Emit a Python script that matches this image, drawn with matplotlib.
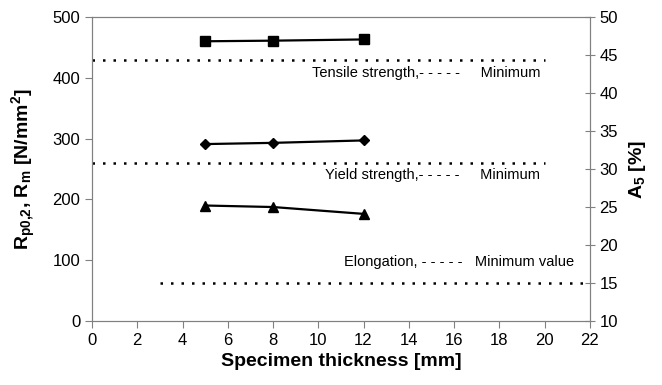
import matplotlib.pyplot as plt

plt.rcParams['font.family'] = ['Liberation Sans', 'DejaVu Sans']
plt.rcParams['mathtext.fontset'] = 'custom'
plt.rcParams['mathtext.rm'] = 'Liberation Sans'
plt.rcParams['mathtext.bf'] = 'Liberation Sans:bold'
plt.rcParams['mathtext.default'] = 'bf'

thickness = [5, 8, 12]
tensile = [460, 461, 463]      # Rm [N/mm2]
yield_str = [291, 293, 297]    # Rp0,2 [N/mm2]
elongation = [25.2, 25.0, 24.1]  # A5 [%]

tensile_min = 430
yield_min = 260
elong_min = 15

fig = plt.figure(figsize=(6.62, 3.85), dpi=100)
ax = fig.add_axes([0.139, 0.166, 0.752, 0.790])
ax2 = ax.twinx()

dots = (0, (1, 3.2))
ax.plot([0, 20], [tensile_min] * 2, color='black', lw=1.8, linestyle=dots)
ax.plot([0, 20], [yield_min] * 2, color='black', lw=1.8, linestyle=dots)
ax2.plot([3, 22], [elong_min] * 2, color='black', lw=1.8, linestyle=dots)

ax.plot(thickness, tensile, color='black', lw=1.6, marker='s', ms=7)
ax.plot(thickness, yield_str, color='black', lw=1.6, marker='D', ms=5.5)
ax2.plot(thickness, elongation, color='black', lw=1.6, marker='^', ms=7)

ax.set_xlim(0, 22)
ax.set_ylim(0, 500)
ax2.set_ylim(10, 50)
ax.set_xticks(range(0, 23, 2))
ax.set_yticks(range(0, 501, 100))
ax2.set_yticks(range(10, 51, 5))

for a in (ax, ax2):
    for s in a.spines.values():
        s.set_color('#808080')
    a.tick_params(colors='#808080', labelcolor='black', labelsize=12, length=5)
ax2.tick_params(direction='inout', length=7)

ax.set_xlabel('Specimen thickness [mm]', fontsize=14, fontweight='bold', labelpad=4)
ax.set_ylabel('R$_{p0{,}2}$, R$_{m}$ [N/mm$^{2}$]',
              fontsize=14, fontweight='bold', labelpad=10)
ax2.set_ylabel('A$_{5}$ [%]', fontsize=14, fontweight='bold', labelpad=6)

ax.text(19.8, 408, 'Tensile strength,- - - - -     Minimum', ha='right', va='center', fontsize=10.5)
ax.text(19.8, 240, 'Yield strength,- - - - -     Minimum', ha='right', va='center', fontsize=10.5)
ax2.text(21.3, 17.8, 'Elongation, - - - - -   Minimum value', ha='right', va='center', fontsize=10.5)

fig.savefig('out.png', dpi=100)
